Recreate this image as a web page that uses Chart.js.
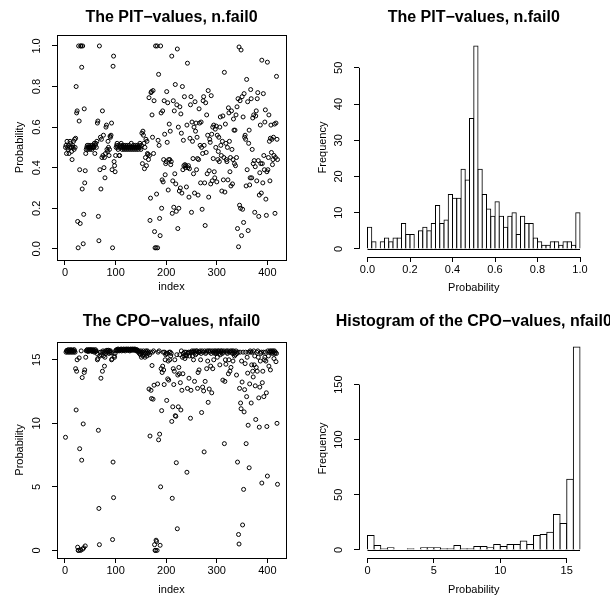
<!DOCTYPE html>
<html>
<head>
<meta charset="utf-8">
<script src="https://cdn.jsdelivr.net/npm/chart.js@4.4.0/dist/chart.umd.min.js"></script>
<style>
body { margin: 0; background: #fff; }
#wrap { position: relative; width: 610px; height: 595px; background: #fff; overflow: hidden; }
#wrap canvas { position: absolute; left: 0; top: 0; }
</style>
</head>
<body>
<div id="wrap">
  <canvas id="pitScatter" width="610" height="595"></canvas>
  <canvas id="pitHist" width="610" height="595"></canvas>
  <canvas id="cpoScatter" width="610" height="595"></canvas>
  <canvas id="cpoHist" width="610" height="595"></canvas>
</div>
<script>
// PIT values by index (1..420)
var pitValues = [
  0.50,0.51,0.47,0.53,0.50,0.49,0.51,0.47,0.50,0.53,0.52,0.50,0.48,0.44,0.51,0.50,0.53,0.49,0.54,0.50,
  0.545,0.80,0.67,0.68,0.135,0.005,1.00,0.63,0.39,0.125,1.00,1.00,0.895,0.295,1.00,0.025,0.17,0.69,0.325,0.385,
  0.47,0.49,0.50,0.51,0.49,0.50,0.51,0.50,0.49,0.50,0.51,0.50,0.49,0.50,0.51,0.50,0.50,0.52,0.47,0.51,
  0.52,0.50,0.53,0.62,0.63,0.16,0.04,1.00,0.39,0.55,
  0.295,0.54,0.45,0.68,0.46,0.56,0.40,0.45,0.35,0.47,0.60,0.61,0.49,0.48,0.53,0.50,0.46,0.49,0.555,0.55,
  0.56,0.62,0.39,0.005,0.90,0.95,0.43,0.41,0.38,0.46,
  0.50,0.51,0.52,0.50,0.49,0.51,0.46,0.46,0.50,0.51,
  0.52,0.50,0.49,0.50,0.51,0.50,0.49,0.50,0.51,0.50,
  0.49,0.50,0.51,0.50,0.49,0.50,0.51,0.50,0.49,0.50,
  0.52,0.50,0.49,0.50,0.51,0.50,0.49,0.50,0.51,0.50,
  0.49,0.50,0.51,0.50,0.49,0.50,0.51,0.52,0.50,0.49,
  0.51,0.57,0.42,0.58,0.56,0.52,0.395,0.50,0.45,0.54,0.41,0.53,0.47,0.465,0.44,0.745,0.46,0.14,0.25,0.77,
  0.775,0.66,0.55,0.78,0.47,0.73,0.085,0.005,1.00,0.005,0.27,1.00,0.005,0.535,0.86,0.51,0.15,0.065,1.00,0.67,
  0.20,0.34,0.68,0.33,0.44,0.73,0.565,0.365,0.42,0.43,
  0.775,0.525,0.72,0.29,0.44,0.615,0.44,0.58,0.415,0.43,
  0.95,0.175,0.335,0.73,0.205,0.68,0.37,0.81,0.32,0.185,
  0.71,0.985,0.10,0.60,0.20,0.285,0.70,0.30,0.665,0.57,
  0.275,0.80,0.39,0.535,0.41,0.75,0.415,0.40,0.41,0.305,
  0.61,0.915,0.40,0.41,0.255,0.395,0.545,0.71,0.75,0.18,
  0.625,0.53,0.445,0.37,0.60,0.275,0.725,0.58,0.62,0.39,
  0.55,0.445,0.265,0.44,0.69,0.62,0.51,0.325,0.625,0.50,
  0.195,0.47,0.73,0.75,0.51,0.325,0.115,0.72,0.475,0.66,
  0.37,0.56,0.78,0.255,0.385,0.54,0.525,0.32,0.755,0.565,
  0.335,0.60,0.445,0.61,0.38,0.35,0.59,0.50,0.605,0.33,
  0.56,0.44,0.48,0.55,0.43,0.60,0.65,0.51,0.46,0.285,
  0.53,0.655,0.34,0.45,0.87,0.28,0.615,0.52,0.44,0.43,
  0.50,0.34,0.695,0.67,0.53,0.38,0.45,0.31,0.68,0.49,
  0.32,0.44,0.64,0.585,0.42,0.585,0.41,0.66,0.45,0.70,
  0.10,0.74,0.01,0.995,0.215,0.73,0.20,0.98,0.065,0.75,
  0.195,0.65,0.13,0.765,0.55,0.56,0.54,0.31,0.835,0.39,
  0.725,0.09,0.52,0.585,0.315,0.35,0.785,0.74,0.35,0.49,
  0.645,0.42,0.66,0.435,0.18,0.405,0.655,0.68,0.335,0.74,
  0.77,0.435,0.16,0.265,0.375,0.61,0.42,0.275,0.93,0.42,
  0.325,0.765,0.46,0.39,0.625,0.685,0.245,0.165,0.38,0.92,
  0.39,0.45,0.66,0.53,0.335,0.545,0.61,0.475,0.54,0.415,
  0.44,0.55,0.46,0.615,0.175,0.45,0.62,0.85,0.54,0.44
];

// CPO values by index (1..420)
var cpoValues = [
  8.9,15.6,15.7,15.75,15.6,15.7,15.8,15.6,15.7,15.75,15.6,15.8,15.7,15.6,15.75,15.7,15.6,15.8,15.7,15.6,
  14.3,11.05,14.1,15.0,0.25,0.0,0.0,15.15,8.0,0.05,0.0,15.7,7.1,13.6,0.1,9.95,0.2,14.0,14.2,0.35,
  15.2,15.7,15.75,15.8,15.7,15.65,15.75,15.8,15.7,15.75,15.8,15.7,15.75,15.65,15.8,15.7,15.75,15.6,15.7,15.8,
  15.65,15.7,15.5,15.0,15.1,9.45,3.3,0.45,15.3,15.6,
  13.55,15.4,15.6,14.1,15.7,15.3,15.6,14.5,15.2,15.7,15.5,15.6,15.75,15.7,15.6,15.75,15.5,15.7,15.6,15.7,
  15.55,15.0,15.05,0.85,6.95,4.15,15.3,15.2,15.5,15.7,
  15.75,15.8,15.7,15.8,15.85,15.75,15.7,15.8,15.75,15.8,
  15.85,15.7,15.8,15.75,15.8,15.85,15.75,15.8,15.7,15.8,
  15.85,15.8,15.75,15.8,15.85,15.75,15.8,15.7,15.8,15.85,
  15.8,15.75,15.8,15.85,15.8,15.75,15.8,15.85,15.8,15.75,
  15.7,15.8,15.75,15.7,15.6,15.7,15.5,15.6,15.4,15.7,
  15.2,15.55,15.6,15.3,15.7,15.4,15.6,15.2,15.5,15.7,15.6,15.3,15.7,15.5,15.6,12.7,15.4,9.0,15.6,12.6,
  11.95,14.55,15.6,11.9,15.7,13.0,0.45,0.0,0.0,0.8,0.7,0.0,13.1,15.6,8.7,15.7,9.15,0.4,5.0,14.3,
  11.0,14.0,14.5,15.6,14.2,13.05,15.6,15.0,15.4,15.5,
  11.8,15.5,13.5,14.9,13.4,15.6,15.0,15.6,15.3,15.5,
  10.15,4.1,11.3,14.3,13.05,14.1,15.0,10.6,10.55,6.9,
  15.4,1.7,13.8,11.3,14.4,13.9,15.4,13.2,11.05,15.7,
  12.6,15.2,13.9,15.5,15.3,15.6,15.1,15.4,15.6,15.3,
  6.15,12.75,15.5,15.6,13.55,15.3,15.6,10.4,12.6,15.6,
  15.7,15.3,15.6,15.0,15.7,13.3,15.6,15.4,15.7,15.5,
  15.7,12.75,14.0,15.6,14.2,15.6,15.7,15.0,15.5,10.85,
  15.7,12.85,15.6,12.55,7.75,15.7,13.3,15.5,15.6,14.3,
  15.7,14.9,11.65,15.7,12.7,15.6,15.7,14.5,15.5,12.4,
  15.7,14.3,15.6,15.0,15.7,15.5,15.6,15.7,15.5,15.6,
  15.2,15.7,15.6,15.7,15.5,14.6,15.4,15.7,15.6,15.7,
  15.5,13.4,15.6,15.7,8.4,13.3,15.0,14.65,15.7,15.6,
  15.5,15.7,13.9,15.0,15.6,14.1,15.7,14.4,15.6,15.7,
  15.5,14.9,15.7,15.5,15.3,15.6,15.4,15.7,13.8,15.5,
  6.95,15.6,1.25,0.5,12.75,15.6,11.6,11.15,14.9,13.25,
  2.0,15.6,4.8,10.9,12.65,14.7,15.6,8.4,12.1,15.2,
  13.95,9.85,15.6,6.5,13.1,15.7,15.6,11.6,14.6,15.6,
  14.1,13.65,15.7,14.6,15.3,12.95,10.3,14.4,15.6,14.1,
  15.7,15.2,12.0,9.7,12.85,14.9,15.5,15.6,5.3,13.2,
  14.1,15.6,12.1,15.0,15.2,15.6,14.9,12.4,9.75,5.85,
  15.7,15.3,14.5,15.6,15.7,14.2,15.6,15.7,15.6,15.5,
  15.7,15.6,15.1,15.7,15.5,15.6,14.85,15.5,10.0,5.2
];

// histogram counts (PIT: bins of 0.02 on [0,1]; CPO: bins of 0.5 on [0,16])
var pitCounts = [6,2,0,2,3,2,3,3,7,4,4,0,5,6,5,7,12,7,8,15,14,14,22,19,36,56,22,15,11,9,
                 13,9,6,9,10,4,9,7,7,3,2,1,1,2,2,1,2,2,1,10];
var pitBinWidth = 0.02;
var cpoCounts = [13,4,1,2,0,0,1,0,2,2,2,1,1,4,1,1,3,3,2,5,3,5,5,8,5,13,14,16,32,24,64,184];
var cpoBinWidth = 0.5;

var indexTicks = [0, 100, 200, 300, 400];
var probTicks = [0, 0.2, 0.4, 0.6, 0.8, 1];
var pitFreqTicks = [0, 10, 20, 30, 40, 50];
var cpoTicks = [0, 5, 10, 15];
var cpoFreqTicks = [0, 50, 100, 150];

Chart.defaults.font.family = '"Liberation Sans", Arial, Helvetica, sans-serif';
Chart.defaults.font.size = 11;
Chart.defaults.color = '#000';

function fmt1(v) { return v.toFixed(1); }
function fmt0(v) { return String(v); }

// R-like frame, rotated y tick labels and bold main title
var rStyle = {
  id: 'rStyle',
  afterDraw: function (chart, args, o) {
    var ctx = chart.ctx, a = chart.chartArea;
    var xs = chart.scales.x, ys = chart.scales.y;
    ctx.save();
    ctx.strokeStyle = '#000';
    ctx.lineWidth = 1;
    if (o.box) {
      ctx.strokeRect(Math.round(a.left) + 0.5, Math.round(a.top) + 0.5,
        Math.round(a.right - a.left), Math.round(a.bottom - a.top));
    } else {
      var yb = Math.round(a.bottom) + 0.5, xl = Math.round(a.left) + 0.5;
      ctx.beginPath();
      ctx.moveTo(xs.getPixelForValue(o.xTicks[0]), yb);
      ctx.lineTo(xs.getPixelForValue(o.xTicks[o.xTicks.length - 1]), yb);
      ctx.moveTo(xl, ys.getPixelForValue(o.yTicks[0]));
      ctx.lineTo(xl, ys.getPixelForValue(o.yTicks[o.yTicks.length - 1]));
      ctx.stroke();
      // zero-height bins still show their bottom edge, as in R
      var y0 = Math.round(ys.getPixelForValue(0)) + 0.5;
      ctx.beginPath();
      ctx.moveTo(xs.getPixelForValue(0), y0);
      ctx.lineTo(xs.getPixelForValue(o.binEnd), y0);
      ctx.stroke();
    }
    ctx.fillStyle = '#000';
    ctx.font = '11px "Liberation Sans", Arial, sans-serif';
    ctx.textAlign = 'center';
    ctx.textBaseline = 'middle';
    o.yTicks.forEach(function (v) {
      ctx.save();
      ctx.translate(a.left - o.yLabelGap, ys.getPixelForValue(v));
      ctx.rotate(-Math.PI / 2);
      ctx.fillText(o.yFmt(v), 0, 0);
      ctx.restore();
    });
    ctx.font = 'bold 16px "Liberation Sans", Arial, sans-serif';
    ctx.fillText(o.title, (a.left + a.right) / 2, o.titleY);
    ctx.restore();
  }
};

function rOptions(g) {
  return {
    responsive: false,
    animation: false,
    devicePixelRatio: 1,
    layout: { padding: { left: g.panelX, top: g.area.t, right: 610 - g.area.r, bottom: 595 - g.panelBottom } },
    plugins: {
      legend: { display: false },
      tooltip: { enabled: false },
      rStyle: { box: g.box, title: g.title, titleY: g.titleY, xTicks: g.xTicks, yTicks: g.yTicks,
                yFmt: g.yFmt, yLabelGap: 20, binEnd: g.binEnd }
    },
    scales: {
      x: {
        type: 'linear', min: g.xMin, max: g.xMax, offset: false,
        afterBuildTicks: function (s) { s.ticks = g.xTicks.map(function (v) { return { value: v }; }); },
        afterFit: function (s) { s.height = g.panelBottom - g.area.b; },
        ticks: { autoSkip: false, maxRotation: 0, minRotation: 0, padding: 1,
                 callback: function (v) { return g.xFmt(v); } },
        grid: { display: true, drawOnChartArea: false, drawTicks: true, tickLength: 5, color: '#000', offset: false },
        border: { display: false },
        title: { display: true, text: g.xTitle, padding: { top: 0, bottom: g.panelBottom - g.xTitleY - 6.6 } }
      },
      y: {
        type: 'linear', min: g.yMin, max: g.yMax,
        afterBuildTicks: function (s) { s.ticks = g.yTicks.map(function (v) { return { value: v }; }); },
        afterFit: function (s) { s.width = g.area.l - g.panelX; },
        ticks: { display: false },
        grid: { display: true, drawOnChartArea: false, drawTicks: true, tickLength: 5, color: '#000' },
        border: { display: false },
        title: { display: true, text: g.yTitle, padding: { top: g.yTitleX - g.panelX - 6.6, bottom: 0 } }
      }
    }
  };
}

function scatterData(values) {
  return {
    datasets: [{
      data: values.map(function (v, i) { return { x: i + 1, y: v }; }),
      pointStyle: 'circle',
      pointRadius: 2.0,
      pointBorderWidth: 1,
      pointBorderColor: '#000',
      pointBackgroundColor: 'rgba(0,0,0,0)'
    }]
  };
}

function histData(counts, width) {
  return {
    datasets: [{
      data: counts.map(function (c, i) { return { x: (i + 0.5) * width, y: c }; }),
      backgroundColor: '#fff',
      borderColor: '#000',
      borderWidth: 1,
      barPercentage: 1,
      categoryPercentage: 1,
      inflateAmount: 0.5
    }]
  };
}

new Chart(document.getElementById('pitScatter'), {
  type: 'scatter',
  data: scatterData(pitValues),
  options: rOptions({
    area: { l: 57, r: 286, t: 35, b: 260 }, panelX: 0, panelBottom: 297,
    xMin: -15.8, xMax: 436.8, yMin: -0.055, yMax: 1.054,
    xTicks: indexTicks, yTicks: probTicks, xFmt: fmt0, yFmt: fmt1,
    xTitle: 'index', yTitle: 'Probability', xTitleY: 287, yTitleX: 20,
    title: 'The PIT\u2212values, n.fail0', titleY: 18, box: true
  }),
  plugins: [rStyle]
});

new Chart(document.getElementById('pitHist'), {
  type: 'bar',
  data: histData(pitCounts, pitBinWidth),
  options: rOptions({
    area: { l: 359, r: 588.5, t: 38, b: 257 }, panelX: 305, panelBottom: 297,
    xMin: -0.04, xMax: 1.04, yMin: -2.24, yMax: 58.24,
    xTicks: probTicks, yTicks: pitFreqTicks, xFmt: fmt1, yFmt: fmt0,
    xTitle: 'Probability', yTitle: 'Frequency', xTitleY: 288, yTitleX: 323,
    title: 'The PIT\u2212values, n.fail0', titleY: 18, box: false,
    binEnd: pitCounts.length * pitBinWidth
  }),
  plugins: [rStyle]
});

new Chart(document.getElementById('cpoScatter'), {
  type: 'scatter',
  data: scatterData(cpoValues),
  options: rOptions({
    area: { l: 57, r: 286, t: 342, b: 558 }, panelX: 0, panelBottom: 595,
    xMin: -15.8, xMax: 436.8, yMin: -0.6, yMax: 16.4,
    xTicks: indexTicks, yTicks: cpoTicks, xFmt: fmt0, yFmt: fmt0,
    xTitle: 'index', yTitle: 'Probability', xTitleY: 590, yTitleX: 20,
    title: 'The CPO\u2212values, nfail0', titleY: 322, box: true
  }),
  plugins: [rStyle]
});

new Chart(document.getElementById('cpoHist'), {
  type: 'bar',
  data: histData(cpoCounts, cpoBinWidth),
  options: rOptions({
    area: { l: 359, r: 588.5, t: 339, b: 558 }, panelX: 305, panelBottom: 595,
    xMin: -0.64, xMax: 16.64, yMin: -7.36, yMax: 191.36,
    xTicks: cpoTicks, yTicks: cpoFreqTicks, xFmt: fmt0, yFmt: fmt0,
    xTitle: 'Probability', yTitle: 'Frequency', xTitleY: 590, yTitleX: 323,
    title: 'Histogram of the CPO\u2212values, nfail0', titleY: 322, box: false,
    binEnd: cpoCounts.length * cpoBinWidth
  }),
  plugins: [rStyle]
});
</script>
</body>
</html>
